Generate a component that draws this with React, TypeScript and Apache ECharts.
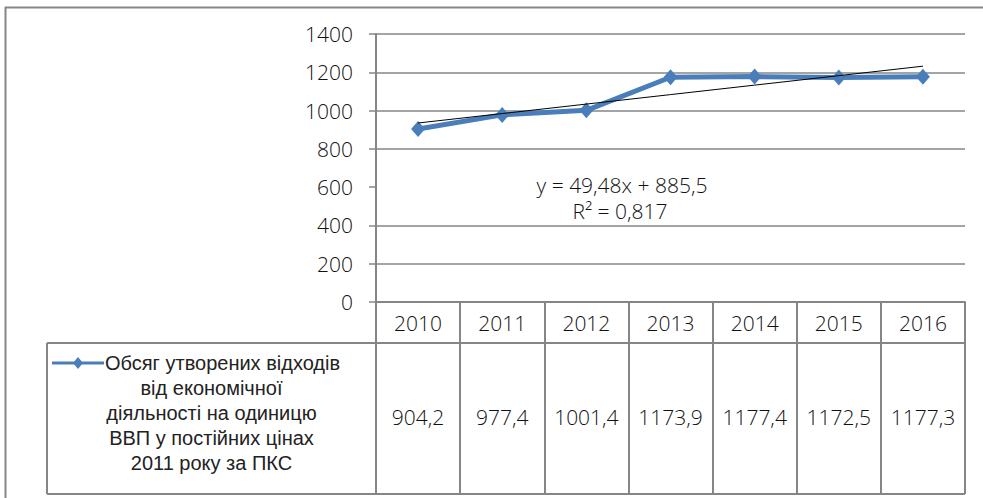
import React, { useEffect, useRef } from "react";
import * as echarts from "echarts";

const categories = ["2010", "2011", "2012", "2013", "2014", "2015", "2016"];
const values = [904.2, 977.4, 1001.4, 1173.9, 1177.4, 1172.5, 1177.3];
const trendValues = [935.0, 984.4, 1033.9, 1083.4, 1132.9, 1182.4, 1231.9];
const yMin = 0;
const yMax = 1400;
const yInterval = 200;
const seriesNameLines = [
  "Обсяг утворених відходів",
  "від економічної",
  "діяльності на одиницю",
  "ВВП у постійних цінах",
  "2011 року за ПКС",
];
const trendEquation = "y = 49,48x + 885,5";
const trendR2 = "R² = 0,817";

const fmt = (v: number) => v.toFixed(1).replace(".", ",");

const W = 983;
const H = 498;
const FONT = "'Open Sans', sans-serif";
const LEGEND_FONT = "'Liberation Sans', Arial, sans-serif";
const FS = 21;
const FW = 300;
const GRAY = "#868686";
const BLUE = "#4a7ebb";
const TEXT = "#111";

export default function App() {
  const ref = useRef<HTMLDivElement>(null);
  useEffect(() => {
    if (!ref.current) return;
    const chart = echarts.init(ref.current, null, { renderer: "svg", width: W, height: H });

    const gridLeft = 376;
    const gridRight = 965;
    const gridTop = 34;
    const axisY = 302;
    const row1H = 41;
    const row2H = 151;
    const row2Top = axisY + row1H;
    const tableBottom = row2Top + row2H;
    const legendLeft = 47;
    const legendCx = (legendLeft + gridLeft) / 2;
    const LH = 25;

    const gridColors = [GRAY, GRAY, GRAY, "rgba(0,0,0,0)", GRAY, GRAY, GRAY, GRAY];
    const font = `${FW} ${FS}px ${FONT}`;
    const legendFont = `20px ${LEGEND_FONT}`;

    const graphics: any[] = [
      { type: "line", shape: { x1: 5, y1: 7.5, x2: W, y2: 7.5 }, style: { stroke: GRAY, lineWidth: 2 } },
      { type: "line", shape: { x1: 5.5, y1: 7, x2: 5.5, y2: H }, style: { stroke: GRAY, lineWidth: 2 } },
      { type: "line", shape: { x1: gridLeft, y1: axisY, x2: gridLeft, y2: tableBottom }, style: { stroke: GRAY, lineWidth: 2 } },
      { type: "line", shape: { x1: legendLeft, y1: row2Top, x2: gridLeft, y2: row2Top }, style: { stroke: GRAY, lineWidth: 2 } },
      { type: "line", shape: { x1: legendLeft, y1: row2Top, x2: legendLeft, y2: tableBottom }, style: { stroke: GRAY, lineWidth: 2 } },
      { type: "line", shape: { x1: legendLeft, y1: tableBottom, x2: gridRight, y2: tableBottom }, style: { stroke: GRAY, lineWidth: 2 } },
      { type: "line", shape: { x1: 52, y1: 363, x2: 104, y2: 363 }, style: { stroke: BLUE, lineWidth: 3 } },
      { type: "polygon", shape: { points: [[78, 357], [83, 363], [78, 369], [73, 363]] }, style: { fill: BLUE } },
      {
        type: "text",
        x: 105,
        y: 363 - LH / 2,
        style: { text: seriesNameLines[0], font: legendFont, lineHeight: LH, fill: "#222", textAlign: "left", textVerticalAlign: "top" },
      },
      {
        type: "text",
        x: legendCx,
        y: 363 + LH / 2,
        style: {
          text: seriesNameLines.slice(1).join("\n"),
          font: legendFont,
          lineHeight: LH,
          fill: "#222",
          textAlign: "center",
          textVerticalAlign: "top",
        },
      },
      {
        type: "text",
        x: 622,
        y: 185,
        style: { text: trendEquation, font, fill: TEXT, textAlign: "center", textVerticalAlign: "middle" },
      },
      {
        type: "text",
        x: 620,
        y: 211,
        style: { text: trendR2, font, fill: TEXT, textAlign: "center", textVerticalAlign: "middle" },
      },
    ];

    const labelStyle = { fontSize: FS, fontWeight: FW, color: TEXT, fontFamily: FONT };

    chart.setOption({
      animation: false,
      backgroundColor: "#fff",
      textStyle: { fontFamily: FONT },
      grid: { left: gridLeft, right: W - gridRight, top: gridTop, bottom: H - axisY, containLabel: false },
      xAxis: [
        {
          type: "category",
          data: categories,
          position: "bottom",
          boundaryGap: true,
          axisLine: { show: true, lineStyle: { color: GRAY, width: 2 } },
          axisTick: { show: true, interval: 0, length: row1H, lineStyle: { color: GRAY, width: 2 } },
          axisLabel: { interval: 0, margin: 10, ...labelStyle },
          splitLine: { show: false },
        },
        {
          type: "category",
          data: categories,
          position: "bottom",
          offset: row1H,
          boundaryGap: true,
          axisLine: { show: true, lineStyle: { color: GRAY, width: 2 } },
          axisTick: { show: true, interval: 0, length: row2H, lineStyle: { color: GRAY, width: 2 } },
          axisLabel: {
            interval: 0,
            margin: 63,
            ...labelStyle,
            formatter: (_v: string, idx: number) => fmt(values[idx]),
          },
          splitLine: { show: false },
        },
      ],
      yAxis: {
        type: "value",
        min: yMin,
        max: yMax,
        interval: yInterval,
        axisLine: { show: true, lineStyle: { color: GRAY, width: 2 } },
        axisTick: { show: true, length: 7, lineStyle: { color: GRAY, width: 1.5 } },
        axisLabel: { margin: 23, ...labelStyle, formatter: (v: number) => String(v) },
        splitLine: { show: true, lineStyle: { color: gridColors, width: 1.5 } },
      },
      series: [
        {
          name: seriesNameLines.join(" "),
          type: "line",
          xAxisIndex: 0,
          data: values,
          symbol: "diamond",
          symbolSize: [14, 16],
          lineStyle: { color: BLUE, width: 5 },
          itemStyle: { color: BLUE },
          z: 3,
        },
        {
          name: "trend",
          type: "line",
          xAxisIndex: 0,
          data: trendValues,
          symbol: "none",
          lineStyle: { color: "#000", width: 1 },
          z: 4,
        },
      ],
      graphic: graphics,
    });
    return () => chart.dispose();
  }, []);
  return <div ref={ref} style={{ position: "fixed", left: 0, top: 0, width: W, height: H }} />;
}
